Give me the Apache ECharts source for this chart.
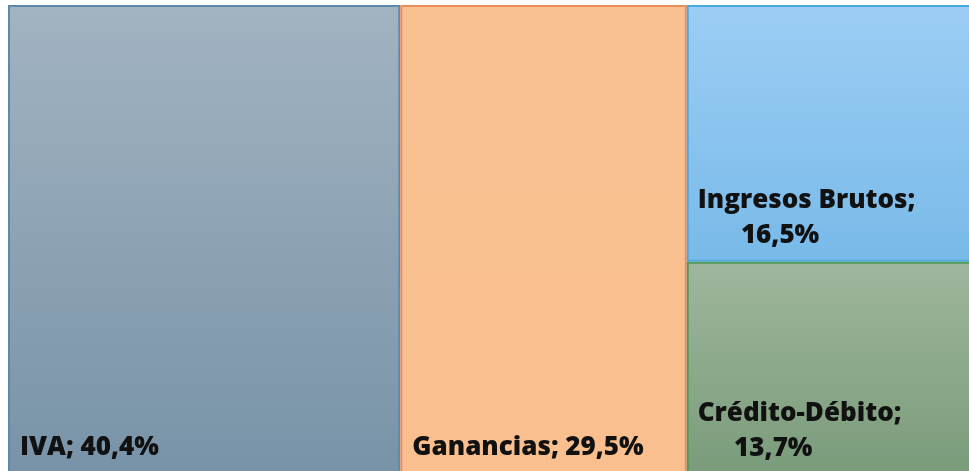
<!DOCTYPE html>
<html>
<head>
<meta charset="utf-8">
<script src="https://cdn.jsdelivr.net/npm/echarts@6/dist/echarts.min.js"></script>
<style>
html,body{margin:0;padding:0;background:#fff;}
#c{width:969px;height:471px;}
</style>
</head>
<body>
<div id="c"></div>
<script>
const names = ['IVA', 'Ganancias', 'Ingresos Brutos', 'Crédito-Débito'];
const values = [40.4, 29.5, 16.5, 13.7];
const labelNames = ['IVA;', 'Ganancias;', 'Ingresos Brutos;', 'Crédito-Débito;'];
const labelValues = ['40,4%', '29,5%', '16,5%', '13,7%'];
const wrapLabel = [false, false, true, true];
const topColors = ['#a2b3c1', '#f9c192', '#9ccdf4', '#9fb69d'];
const bottomColors = ['#7893a8', '#f9bf8e', '#79bae9', '#7a9c7b'];
const borderColors = ['#5d8aa6', '#ee8c5c', '#4ba7df', '#4f9a5c'];

const FONT_SIZE = 26;
const FONT_WEIGHT = 800;
const FONT_FAMILY = '"Open Sans", "Noto Sans", sans-serif';
const cv = document.createElement('canvas').getContext('2d');
cv.font = FONT_WEIGHT + ' ' + FONT_SIZE + 'px ' + FONT_FAMILY;
const tw = s => cv.measureText(s).width;

// indent of the second line of a wrapped label (Excel-like placement)
function indent(first, second) {
  const pad = Math.max(0, (tw(first) - tw(second)) / 2 - 26);
  const ws = tw(' '), wh = tw('\u200A') || 1;
  const n = Math.floor(pad / ws);
  const m = Math.round((pad - n * ws) / wh);
  return ' '.repeat(n) + '\u200A'.repeat(m);
}

const data = names.map((n, i) => {
  const text = wrapLabel[i]
    ? labelNames[i] + '\n' + indent(labelNames[i], labelValues[i]) + labelValues[i]
    : labelNames[i] + ' ' + labelValues[i];
  return {
    name: n,
    value: values[i],
    label: {
      formatter: text,
      position: [wrapLabel[i] ? 4 : 5, '100%'],
      align: 'left',
      verticalAlign: 'bottom',
      offset: [0, wrapLabel[i] ? -2 : -3]
    },
    itemStyle: {
      color: new echarts.graphic.LinearGradient(0, 0, 0, 1, [
        { offset: 0, color: topColors[i] },
        { offset: 1, color: bottomColors[i] }
      ]),
      borderColor: borderColors[i],
      borderWidth: 2,
      gapWidth: 0
    }
  };
});

const chart = echarts.init(document.getElementById('c'), null, { renderer: 'canvas' });
chart.setOption({
  animation: false,
  series: [{
    type: 'treemap',
    left: 8,
    top: 5,
    width: 972,
    height: 470,
    roam: false,
    nodeClick: false,
    breadcrumb: { show: false },
    squareRatio: 1,
    itemStyle: { borderWidth: 0, gapWidth: 0 },
    label: {
      show: true,
      overflow: 'none',
      color: '#111',
      fontSize: FONT_SIZE,
      fontWeight: FONT_WEIGHT,
      fontFamily: FONT_FAMILY,
      lineHeight: 35
    },
    data: data
  }]
});
</script>
</body>
</html>
